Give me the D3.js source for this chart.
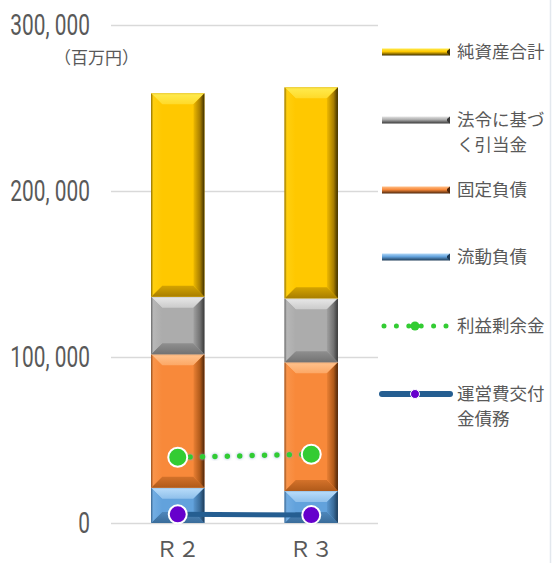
<!DOCTYPE html>
<html>
<head>
<meta charset="utf-8">
<script src="https://cdn.jsdelivr.net/npm/d3@7"></script>
<style>
  html, body { margin: 0; padding: 0; background: #fff; }
  svg { display: block; }
</style>
</head>
<body>
<svg id="chart" width="552" height="563"></svg>
<script>
// 年度
const categories = ["Ｒ２", "Ｒ３"];

// 積み上げ棒（百万円）
const currentLiab = [21300, 19300];     // 流動負債
const fixedLiab = [80300, 77500];       // 固定負債
const statutoryReserve = [34700, 38550]; // 法令に基づく引当金
const netAssets = [122550, 127100];     // 純資産合計

// 折れ線（百万円）
const retainedEarnings = [39600, 41400]; // 利益剰余金
const grantLiab = [5200, 4800];          // 運営費交付金債務

const yTicks = [0, 100000, 200000, 300000];
const unitLabel = "（百万円）";

const stackSeries = [
  { key: "current", name: "流動負債", values: currentLiab,
    pal: { base: "#62a2dc", light: "#b4d9f8", dark: "#3a6c9a", darkest: "#1d3b58" } },
  { key: "fixed", name: "固定負債", values: fixedLiab,
    pal: { base: "#f8893a", light: "#ffbf88", dark: "#b05a1a", darkest: "#4c250a" } },
  { key: "reserve", name: "法令に基づ\nく引当金", values: statutoryReserve,
    pal: { base: "#acacac", light: "#e4e4e4", dark: "#727272", darkest: "#383838" } },
  { key: "net", name: "純資産合計", values: netAssets,
    pal: { base: "#ffc800", light: "#ffe94a", dark: "#a87e00", darkest: "#3d2e00" } }
];

const svg = d3.select("#chart");
const defs = svg.append("defs");
const textColor = "#595959";

const y = d3.scaleLinear().domain([0, 300000]).range([523, 25]);
const x = d3.scaleBand().domain(categories).range([111, 378])
  .paddingInner(0.6).paddingOuter(0.3);

// gradients for bevel faces
function grad(id, x1, y1, x2, y2, stops) {
  const g = defs.append("linearGradient").attr("id", id)
    .attr("x1", x1).attr("y1", y1).attr("x2", x2).attr("y2", y2);
  stops.forEach(([o, c]) => g.append("stop").attr("offset", o).attr("stop-color", c));
}
function mix(a, b, t) { return d3.interpolateRgb(a, b)(t); }

stackSeries.forEach(s => {
  const p = s.pal;
  grad(`top-${s.key}`, 0, 0, 0, 1, [[0, mix(p.light, p.dark, 0.25)], [0.15, p.light], [1, mix(p.light, p.base, 0.45)]]);
  grad(`bot-${s.key}`, 0, 0, 0, 1, [[0, mix(p.base, p.dark, 0.5)], [1, p.dark]]);
  grad(`lft-${s.key}`, 0, 0, 1, 0, [[0, mix(p.base, p.darkest, 0.6)], [0.2, mix(p.base, p.light, 0.2)], [1, p.base]]);
  grad(`rgt-${s.key}`, 0, 0, 1, 0, [[0, mix(p.base, p.dark, 0.2)], [0.6, p.dark], [1, p.darkest]]);
  grad(`leg-${s.key}`, 0, 0, 0, 1, [[0, p.light], [0.45, p.base], [1, p.darkest]]);
});

// shadow for the dotted line
const f = defs.append("filter").attr("id", "dotShadow")
  .attr("x", "-10%").attr("y", "-100%").attr("width", "120%").attr("height", "300%");
f.append("feGaussianBlur").attr("in", "SourceAlpha").attr("stdDeviation", 1.6).attr("result", "b");
f.append("feFlood").attr("flood-color", "#7f9cc4").attr("flood-opacity", 0.8);
f.append("feComposite").attr("in2", "b").attr("operator", "in").attr("result", "s");
const fm = f.append("feMerge");
fm.append("feMergeNode").attr("in", "s");
fm.append("feMergeNode").attr("in", "SourceGraphic");

// gridlines
svg.append("g").selectAll("line").data(yTicks).join("line")
  .attr("x1", 111).attr("x2", 378)
  .attr("y1", d => Math.round(y(d)) + 0.5).attr("y2", d => Math.round(y(d)) + 0.5)
  .attr("stroke", "#d9d9d9").attr("stroke-width", 1.5);

// y tick labels (condensed numerals)
const fmt = d3.format(",");
svg.append("g").selectAll("text").data(yTicks).join("text")
  .attr("transform", d => `translate(90,${y(d)}) scale(0.72,1)`)
  .attr("text-anchor", "end").attr("dy", "0.36em")
  .attr("font-family", "Roboto, 'Noto Sans', sans-serif").attr("font-size", 29)
  .attr("fill", textColor)
  .text(d => fmt(d).replace(/,/g, ", "));

svg.append("text").attr("x", 54).attr("y", 58).attr("dy", "0.36em")
  .attr("font-family", "'Noto Sans CJK JP', sans-serif").attr("font-size", 17)
  .attr("fill", textColor).text(unitLabel);

// stacked bars with bevel
const stacked = d3.stack().keys(stackSeries.map((s, i) => i))
  .value((d, k) => stackSeries[k].values[d])(categories.map((c, i) => i));

function bevel(g, x0, y0, w, h, key, pal) {
  const x1 = x0 + w, y1 = y0 + h;
  const b = Math.min(11, w / 2, h / 2);
  g.append("rect").attr("x", x0).attr("y", y0).attr("width", w).attr("height", h).attr("fill", pal.base);
  const poly = (pts, fill) => g.append("polygon")
    .attr("points", pts.map(p => p.join(",")).join(" ")).attr("fill", fill);
  poly([[x0, y0], [x1, y0], [x1 - b, y0 + b], [x0 + b, y0 + b]], `url(#top-${key})`);
  poly([[x0, y1], [x1, y1], [x1 - b, y1 - b], [x0 + b, y1 - b]], `url(#bot-${key})`);
  poly([[x0, y0], [x0 + b, y0 + b], [x0 + b, y1 - b], [x0, y1]], `url(#lft-${key})`);
  poly([[x1, y0], [x1 - b, y0 + b], [x1 - b, y1 - b], [x1, y1]], `url(#rgt-${key})`);
}

const barG = svg.append("g");
stacked.forEach((layer, k) => {
  const s = stackSeries[k];
  layer.forEach((d, i) => {
    const x0 = x(categories[i]);
    const top = y(d[1]), bot = y(d[0]);
    bevel(barG.append("g"), x0, top, x.bandwidth(), bot - top, s.key, s.pal);
  });
});

// line series
const cx = i => x(categories[i]) + x.bandwidth() / 2;
const line = d3.line().x((d, i) => cx(i)).y(d => y(d));

svg.append("path").datum(retainedEarnings)
  .attr("d", line).attr("fill", "none")
  .attr("stroke", "#33cc33").attr("stroke-width", 5.5)
  .attr("stroke-linecap", "round").attr("stroke-dasharray", "0 12.4")
  .attr("filter", "url(#dotShadow)");

svg.append("path").datum(grantLiab)
  .attr("d", line).attr("fill", "none")
  .attr("stroke", "#255e91").attr("stroke-width", 5);

svg.append("g").selectAll("circle").data(retainedEarnings).join("circle")
  .attr("cx", (d, i) => cx(i)).attr("cy", d => y(d)).attr("r", 9.5)
  .attr("fill", "#33cc33").attr("stroke", "#fff").attr("stroke-width", 2);

svg.append("g").selectAll("circle").data(grantLiab).join("circle")
  .attr("cx", (d, i) => cx(i)).attr("cy", d => y(d)).attr("r", 9)
  .attr("fill", "#6600cc").attr("stroke", "#fff").attr("stroke-width", 2);

// category labels
svg.append("g").selectAll("text").data(categories).join("text")
  .attr("x", d => x(d) + x.bandwidth() / 2).attr("y", 557)
  .attr("text-anchor", "middle")
  .attr("font-family", "'Noto Sans CJK JP', sans-serif").attr("font-size", 22)
  .attr("fill", textColor).text(d => d);

// legend
const legend = [
  { type: "bar", s: stackSeries[3], y: 52 },
  { type: "bar", s: stackSeries[2], y: 120 },
  { type: "bar", s: stackSeries[1], y: 190 },
  { type: "bar", s: stackSeries[0], y: 257 },
  { type: "dot", name: "利益剰余金", y: 326 },
  { type: "line", name: "運営費交付\n金債務", y: 394 }
];
const lg = svg.append("g");
legend.forEach(it => {
  const g = lg.append("g");
  if (it.type === "bar") {
    g.append("rect").attr("x", 382).attr("y", it.y - 3.5).attr("width", 68).attr("height", 7)
      .attr("fill", `url(#leg-${it.s.key})`);
    g.append("polygon")
      .attr("points", `450,${it.y - 3.5} 450,${it.y + 3.5} 447,${it.y + 1} 447,${it.y - 1}`)
      .attr("fill", it.s.pal.darkest);
  } else if (it.type === "dot") {
    g.append("line").attr("x1", 384).attr("x2", 446).attr("y1", it.y).attr("y2", it.y)
      .attr("stroke", "#33cc33").attr("stroke-width", 5).attr("stroke-linecap", "round")
      .attr("stroke-dasharray", "0 12.4");
    g.append("circle").attr("cx", 415).attr("cy", it.y).attr("r", 4.5).attr("fill", "#33cc33");
  } else {
    g.append("line").attr("x1", 382).attr("x2", 450).attr("y1", it.y).attr("y2", it.y)
      .attr("stroke", "#255e91").attr("stroke-width", 6).attr("stroke-linecap", "round");
    g.append("circle").attr("cx", 415).attr("cy", it.y).attr("r", 4.5)
      .attr("fill", "#6600cc").attr("stroke", "#fff").attr("stroke-width", 1);
  }
  const name = it.type === "bar" ? it.s.name : it.name;
  const t = g.append("text").attr("x", 457).attr("y", it.y)
    .attr("font-family", "'Noto Sans CJK JP', sans-serif").attr("font-size", 17.5)
    .attr("fill", textColor);
  name.split("\n").forEach((ln, j) => {
    t.append("tspan").attr("x", 457).attr("dy", j === 0 ? "0.36em" : 25).text(ln);
  });
});

// right border
svg.append("line").attr("x1", 550.5).attr("x2", 550.5).attr("y1", 0).attr("y2", 563)
  .attr("stroke", "#e3e8ee").attr("stroke-width", 1.5);
</script>
</body>
</html>
